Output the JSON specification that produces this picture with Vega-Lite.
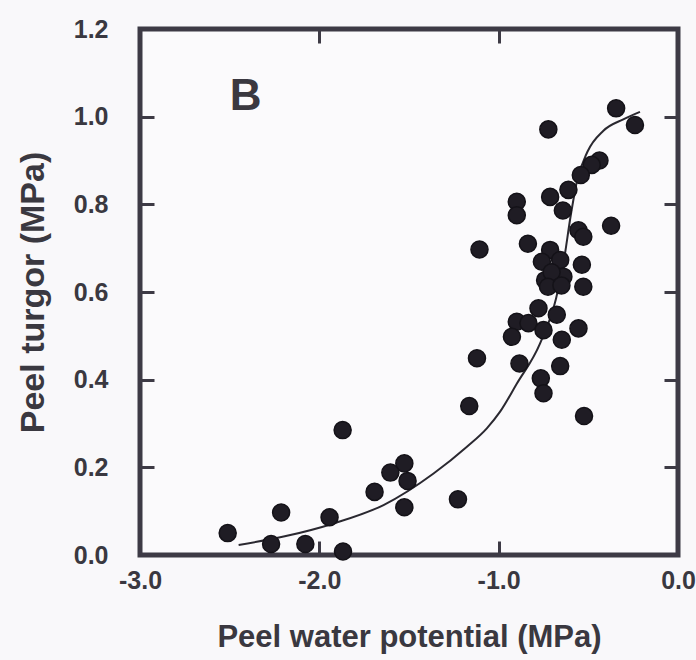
{
  "$schema": "https://vega.github.io/schema/vega-lite/v6.json",
  "width": 538,
  "height": 526,
  "autosize": "none",
  "padding": {"left": 140, "top": 29, "right": 18, "bottom": 105},
  "background": "#f9f8fa",
  "config": {
    "view": {"stroke": "#3d3a45", "strokeWidth": 5, "fill": "#fbfafc"},
    "axis": {"grid": false, "domain": false, "labelFlush": false, "tickColor": "#3d3a45", "tickWidth": 3, "labelFont": "Liberation Sans", "labelFontWeight": "bold", "labelColor": "#3a3840", "titleFont": "Liberation Sans", "titleFontWeight": "bold", "titleColor": "#3a3840"}
  },
  "datasets": {
    "points": [
      {"psi": -0.345, "turgor": 1.019}, {"psi": -0.240, "turgor": 0.981}, {"psi": -0.723, "turgor": 0.971},
      {"psi": -0.438, "turgor": 0.900}, {"psi": -0.481, "turgor": 0.890}, {"psi": -0.542, "turgor": 0.867},
      {"psi": -0.713, "turgor": 0.817}, {"psi": -0.611, "turgor": 0.833}, {"psi": -0.642, "turgor": 0.786},
      {"psi": -0.899, "turgor": 0.806}, {"psi": -0.899, "turgor": 0.775}, {"psi": -0.373, "turgor": 0.751},
      {"psi": -0.555, "turgor": 0.741}, {"psi": -0.528, "turgor": 0.726}, {"psi": -0.837, "turgor": 0.710},
      {"psi": -1.107, "turgor": 0.697}, {"psi": -0.713, "turgor": 0.696}, {"psi": -0.759, "turgor": 0.669},
      {"psi": -0.657, "turgor": 0.673}, {"psi": -0.536, "turgor": 0.662}, {"psi": -0.741, "turgor": 0.627},
      {"psi": -0.639, "turgor": 0.635}, {"psi": -0.528, "turgor": 0.612}, {"psi": -0.705, "turgor": 0.645},
      {"psi": -0.725, "turgor": 0.612}, {"psi": -0.650, "turgor": 0.615}, {"psi": -0.778, "turgor": 0.563},
      {"psi": -0.899, "turgor": 0.532}, {"psi": -0.834, "turgor": 0.529}, {"psi": -0.676, "turgor": 0.548},
      {"psi": -0.750, "turgor": 0.513}, {"psi": -0.555, "turgor": 0.517}, {"psi": -0.926, "turgor": 0.498},
      {"psi": -0.648, "turgor": 0.491}, {"psi": -1.121, "turgor": 0.449}, {"psi": -0.884, "turgor": 0.437},
      {"psi": -0.657, "turgor": 0.431}, {"psi": -0.765, "turgor": 0.403}, {"psi": -0.750, "turgor": 0.369},
      {"psi": -1.164, "turgor": 0.340}, {"psi": -0.524, "turgor": 0.317}, {"psi": -1.870, "turgor": 0.285},
      {"psi": -1.526, "turgor": 0.209}, {"psi": -1.604, "turgor": 0.188}, {"psi": -1.508, "turgor": 0.169},
      {"psi": -1.692, "turgor": 0.144}, {"psi": -1.227, "turgor": 0.127}, {"psi": -1.526, "turgor": 0.109},
      {"psi": -2.213, "turgor": 0.097}, {"psi": -1.943, "turgor": 0.086}, {"psi": -2.511, "turgor": 0.050},
      {"psi": -2.269, "turgor": 0.025}, {"psi": -2.078, "turgor": 0.025}, {"psi": -1.868, "turgor": 0.008}
    ],
    "curve": [
      {"psi": -2.450, "turgor": 0.023}, {"psi": -2.199, "turgor": 0.042}, {"psi": -1.920, "turgor": 0.072},
      {"psi": -1.642, "turgor": 0.114}, {"psi": -1.363, "turgor": 0.186}, {"psi": -1.177, "turgor": 0.247},
      {"psi": -1.066, "turgor": 0.289}, {"psi": -0.992, "turgor": 0.327}, {"psi": -0.900, "turgor": 0.390},
      {"psi": -0.769, "turgor": 0.483}, {"psi": -0.680, "turgor": 0.585}, {"psi": -0.635, "turgor": 0.675},
      {"psi": -0.600, "turgor": 0.770}, {"psi": -0.565, "turgor": 0.850}, {"psi": -0.505, "turgor": 0.920},
      {"psi": -0.416, "turgor": 0.968}, {"psi": -0.305, "turgor": 0.994}, {"psi": -0.212, "turgor": 1.011}
    ],
    "labels": [{"psi": -2.5, "turgor": 1.015, "label": "B"}]
  },
  "layer": [
    {
      "data": {"name": "curve"},
      "mark": {"type": "line", "color": "#2a2830", "strokeWidth": 2, "interpolate": "monotone"},
      "encoding": {
        "x": {"field": "psi", "type": "quantitative", "scale": {"domain": [-3, 0], "nice": false, "zero": false},
          "axis": {"orient": "top", "values": [-3, -2, -1, 0], "labels": false, "title": null, "tickSize": -14}},
        "y": {"field": "turgor", "type": "quantitative", "scale": {"domain": [0, 1.2], "nice": false, "zero": false},
          "axis": {"orient": "right", "values": [0, 0.2, 0.4, 0.6, 0.8, 1.0, 1.2], "labels": false, "title": null, "tickSize": -14}}
      }
    },
    {
      "data": {"name": "points"},
      "mark": {"type": "point", "shape": "circle", "filled": true, "size": 290, "color": "#1f1c24", "stroke": "#141218", "strokeWidth": 1.5, "opacity": 1},
      "encoding": {
        "x": {"field": "psi", "type": "quantitative", "scale": {"domain": [-3, 0], "nice": false, "zero": false},
          "axis": {"orient": "bottom", "values": [-3, -2, -1, 0], "tickSize": -14, "labelFontSize": 25, "labelPadding": 27,
            "labelExpr": "datum.value < 0 ? '-' + format(-datum.value, '.1f') : format(datum.value, '.1f')",
            "title": "Peel water potential (MPa)", "titleFontSize": 31, "titlePadding": 29}},
        "y": {"field": "turgor", "type": "quantitative", "scale": {"domain": [0, 1.2], "nice": false, "zero": false},
          "axis": {"orient": "left", "values": [0, 0.2, 0.4, 0.6, 0.8, 1.0, 1.2], "tickSize": -14, "labelFontSize": 25, "labelPadding": 46, "format": ".1f",
            "title": "Peel turgor (MPa)", "titleFontSize": 34, "titlePadding": 23}}
      }
    },
    {
      "data": {"name": "labels"},
      "mark": {"type": "text", "align": "left", "baseline": "alphabetic", "font": "Liberation Sans", "fontWeight": "bold", "fontSize": 44, "color": "#3a3840"},
      "encoding": {
        "x": {"field": "psi", "type": "quantitative", "axis": null},
        "y": {"field": "turgor", "type": "quantitative", "axis": null},
        "text": {"field": "label"}
      }
    }
  ],
  "resolve": {"axis": {"x": "independent", "y": "independent"}}
}
